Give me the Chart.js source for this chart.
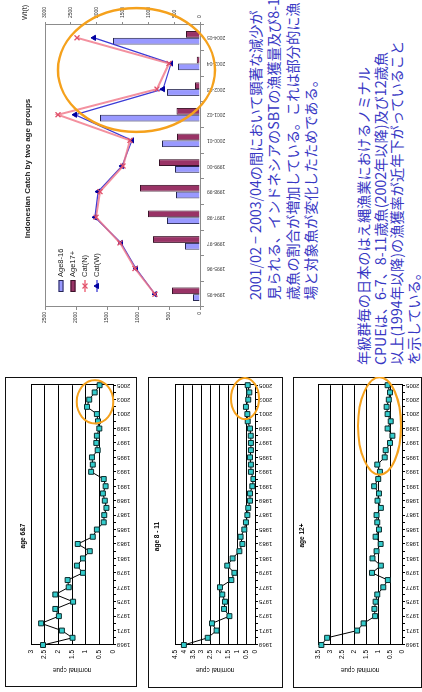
<!DOCTYPE html>
<html lang="ja">
<head>
<meta charset="utf-8">
<title>SBT catch and nominal CPUE</title>
<script src="https://cdn.jsdelivr.net/npm/chart.js@4.4.1/dist/chart.umd.min.js"></script>
<style>
  html, body { margin:0; padding:0; width:422px; height:692px; overflow:hidden; background:#fff; }
  /* the slide is laid out landscape and turned a quarter turn to portrait */
  #slide { position:absolute; left:0; top:0; width:692px; height:422px; overflow:hidden; background:#fff;
           transform-origin:0 0; transform:translate(0,692px) rotate(-90deg); }
  .panel { position:absolute; box-sizing:border-box; border:1.5px solid #111; }
  canvas { position:absolute; }
  .note { position:absolute; margin:0; white-space:nowrap; color:#3838c4;
          font-family:"Noto Sans CJK JP","Noto Sans",sans-serif; font-size:14.2px; }
</style>
</head>
<body>
<div id="slide">
  <canvas id="catch" width="337" height="240" style="left:355px;top:0px"></canvas>

  <div class="note" style="left:392px;top:246px;line-height:18.3px">
    <div>2001/02 − 2003/04の間において顕著な減少が</div>
    <div>見られる、インドネシアのSBTの漁獲量及び8-16</div>
    <div>歳魚の割合が増加している。これは部分的に漁</div>
    <div>場と対象魚が変化したためである。</div>
  </div>

  <div class="note" style="left:327px;top:355px;line-height:16.5px">
    <div>年級群毎の日本のはえ縄漁業におけるノミナル</div>
    <div>CPUEは、6-7、8-11歳魚(2002年以降)及び12歳魚</div>
    <div>以上(1994年以降)の漁獲率が近年下がっていること</div>
    <div>を示している。</div>
  </div>

  <div class="panel" style="left:5px;top:5px;width:310px;height:132px"></div>
  <div class="panel" style="left:4px;top:148px;width:311px;height:135px"></div>
  <div class="panel" style="left:4px;top:293px;width:311px;height:129px"></div>
  <canvas id="cpue1" width="310" height="132" style="left:5px;top:5px"></canvas>
  <canvas id="cpue2" width="311" height="135" style="left:4px;top:148px"></canvas>
  <canvas id="cpue3" width="311" height="129" style="left:4px;top:293px"></canvas>
</div>

<script>
// ---- Indonesian catch by season ----
const seasons = ['1994-95','1995-96','1996-97','1997-98','1998-99','1999-00',
                 '2000-01','2001-02','2002-03','2003-04','2004-05'];
const age8to16  = [113, null, 242, 532, 387, 403, 613, 1613, 532, 355, 1403];
const age17plus = [452, null, 758, 839, 968, 661, 371, 379, 81, 53, 226];
const catchN    = [726, 1048, 1290, 1677, 1613, 1242, 1129, 2290, 694, 500, 1984];
const catchW    = [871, 1239, 1529, 2032, 1974, 1510, 1316, 2419, 716, 561, 2052];
const numberTicks = [0, 500, 1000, 1500, 2000, 2500];
const weightTicks = [0, 500, 1000, 1500, 2000, 2500, 3000];

// ---- Japanese longline nominal CPUE by age class ----
const years = ['1969','1970','1971','1972','1973','1974','1975','1976','1977','1978',
               '1979','1980','1981','1982','1983','1984','1985','1986','1987','1988',
               '1989','1990','1991','1992','1993','1994','1995','1996','1997','1998',
               '1999','2000','2001','2002','2003','2004','2005'];
const cpueAge6to7 = [2.56, 1.48, 1.87, 2.63, 1.98, 2.11, 1.46, 2.11, 1.62, 1.66,
                     1.10, 1.32, 1.10, 0.85, 1.29, 0.74, 0.59, 0.34, 0.32, 0.24,
                     0.30, 0.37, 0.27, 0.34, 0.80, 0.74, 0.77, 0.56, 0.61, 0.59,
                     0.50, 0.55, 0.59, 0.95, 0.87, 0.67, 0.49];
const cpueAge8to11 = [4.00, 2.66, 2.16, 2.42, 1.44, 1.74, 1.69, 1.84, 1.97, 1.33,
                      1.16, 1.56, 1.26, 0.88, 0.71, 0.81, 0.60, 0.51, 0.43, 0.38,
                      0.28, 0.28, 0.15, 0.09, 0.23, 0.23, 0.28, 0.23, 0.23, 0.24,
                      0.28, 0.41, 0.43, 0.51, 0.38, 0.32, 0.41];
const cpueAge12plus = [3.36, 3.12, 1.87, 1.60, 1.12, 1.15, 1.10, 1.03, 0.78, 0.59,
                       1.25, 0.88, 1.23, 1.06, 0.89, 1.10, 0.96, 1.03, 1.06, 0.88,
                       1.02, 0.96, 1.16, 0.99, 0.92, 1.03, 0.72, 0.68, 0.50, 0.40,
                       0.60, 0.47, 0.60, 0.64, 0.55, 0.50, 0.60];
const cpueTicks6to7   = [0, 0.5, 1, 1.5, 2, 2.5, 3];
const cpueTicks8to11  = [0, 0.5, 1, 1.5, 2, 2.5, 3, 3.5, 4, 4.5];
const cpueTicks12plus = [0, 0.5, 1, 1.5, 2, 2.5, 3, 3.5];

// recent-period highlights, in axis units: [from, to] along x (category index) and y
const catchRing      = { x: [6.33, 11.16], y: [2290, -242] };
const cpueRing6to7   = { x: [30.7, 36.7], y: [1.33, -0.01] };
const cpueRing8to11  = { x: [31.3, 37.0], y: [1.35, -0.22] };
const cpueRing12plus = { x: [23.6, 37.1], y: [1.83, 0.04] };

Chart.defaults.font.family = '"Liberation Sans", Arial, sans-serif';
Chart.defaults.color = '#222';

const stepped = t => ({ min: t[0], max: t[t.length - 1], step: t[1] - t[0] });
const plain = v => String(v);

// box around the plotting area
const frame = {
  id: 'frame',
  beforeDatasetsDraw(chart, args, o) {
    const a = chart.chartArea, c = chart.ctx;
    c.save();
    c.strokeStyle = o.color || '#000';
    c.lineWidth = o.width || 1;
    c.strokeRect(Math.round(a.left) + 0.5, Math.round(a.top) + 0.5,
                 Math.round(a.right) - Math.round(a.left), Math.round(a.bottom) - Math.round(a.top));
    c.restore();
  }
};

// orange ring placed through the chart's own scales
const highlight = {
  id: 'highlight',
  afterDraw(chart, args, o) {
    if (!o || !o.x) return;
    const xs = chart.scales.x, ys = chart.scales[o.axis || 'y'];
    const x0 = xs.getPixelForValue(o.x[0]), x1 = xs.getPixelForValue(o.x[1]);
    const y0 = ys.getPixelForValue(o.y[0]), y1 = ys.getPixelForValue(o.y[1]);
    const c = chart.ctx;
    c.save();
    c.beginPath();
    c.ellipse((x0 + x1) / 2, (y0 + y1) / 2, Math.abs(x1 - x0) / 2, Math.abs(y1 - y0) / 2, 0, 0, Math.PI * 2);
    c.strokeStyle = o.color || '#f5a11c';
    c.lineWidth = o.width || 2;
    c.stroke();
    c.restore();
  }
};

// legend drawn inside the plot: box for bars, line with marker for lines
const seriesKey = {
  id: 'seriesKey',
  afterDatasetsDraw(chart, args, o) {
    const c = chart.ctx, a = chart.chartArea;
    const x0 = a.left + o.dx, w = o.sample;
    chart.data.datasets.forEach((ds, i) => {
      const y = a.top + o.dy + i * o.row;
      c.save();
      if ((ds.type || chart.config.type) === 'bar') {
        c.fillStyle = ds.backgroundColor;
        c.fillRect(x0, y - 2.5, w, 5);
        c.strokeStyle = ds.borderColor;
        c.lineWidth = 1;
        c.strokeRect(x0 + 0.5, y - 2, w - 1, 4);
      } else {
        c.strokeStyle = ds.borderColor;
        c.lineWidth = ds.borderWidth;
        c.beginPath(); c.moveTo(x0, y); c.lineTo(x0 + w, y); c.stroke();
        c.fillStyle = ds.pointBackgroundColor;
        c.strokeStyle = ds.pointBorderColor;
        c.lineWidth = ds.pointBorderWidth || 1;
        Chart.helpers.drawPoint(c, { pointStyle: ds.pointStyle, radius: ds.pointRadius, rotation: 0,
                                     borderWidth: ds.pointBorderWidth || 1 }, x0 + w / 2, y);
      }
      c.fillStyle = o.color;
      c.font = o.font;
      c.textBaseline = 'middle';
      c.textAlign = 'left';
      c.fillText(ds.label, x0 + w + 3, y);
      c.restore();
    });
  }
};

// unit caption above the weight axis
const axisCaption = {
  id: 'axisCaption',
  afterDraw(chart, args, o) {
    if (!o || !o.text) return;
    const s = chart.scales[o.axis], c = chart.ctx;
    c.save();
    c.fillStyle = o.color; c.font = o.font;
    c.textAlign = 'center'; c.textBaseline = 'middle';
    c.fillText(o.text, s.left + o.dx, chart.chartArea.top - o.dy);
    c.restore();
  }
};

const nTicks = stepped(numberTicks), wTicks = stepped(weightTicks);

new Chart(document.getElementById('catch'), {
  type: 'bar',
  data: {
    labels: seasons,
    datasets: [
      { label: 'Age8-16', data: age8to16, backgroundColor: '#9999ff', borderColor: '#262650',
        borderWidth: 1, yAxisID: 'y', order: 1, categoryPercentage: 0.53, barPercentage: 1 },
      { label: 'Age17+', data: age17plus, backgroundColor: '#993366', borderColor: '#3a1228',
        borderWidth: 1, yAxisID: 'y', order: 1, categoryPercentage: 0.53, barPercentage: 1 },
      { type: 'line', label: 'Cat(N)', data: catchN, borderColor: 'rgba(240,118,135,0.8)', borderWidth: 2,
        pointStyle: 'crossRot', pointRadius: 3.5, pointBackgroundColor: '#e0506a',
        pointBorderColor: '#e0506a', pointBorderWidth: 1.2, yAxisID: 'y', order: 0, tension: 0 },
      { type: 'line', label: 'Cat(W)', data: catchW, borderColor: '#3c3cd6', borderWidth: 1.3,
        pointStyle: 'triangle', pointRadius: 3, pointBackgroundColor: '#0000a0',
        pointBorderColor: '#0000a0', pointBorderWidth: 1, yAxisID: 'y1', order: 0, tension: 0 }
    ]
  },
  options: {
    responsive: false,
    animation: false,
    layout: { padding: 0 },
    plugins: {
      legend: { display: false },
      tooltip: { enabled: false },
      title: { display: true, text: 'Indonesian Catch by two age groups', color: '#222',
               font: { size: 8, weight: 'bold' }, padding: { top: 23.2, bottom: 12.2 } },
      frame: { color: '#8c8c8c' },
      highlight: { x: catchRing.x, y: catchRing.y, axis: 'y', color: '#f5a11c', width: 2.5 },
      seriesKey: { dx: 15, dy: 16, row: 12, sample: 12, font: '7.5px "Liberation Sans", Arial, sans-serif', color: '#222' },
      axisCaption: { text: 'Wt(t)', axis: 'y1', dx: 12.5, dy: 20, color: '#222', font: '7px "Liberation Sans", Arial, sans-serif' }
    },
    scales: {
      x: {
        grid: { drawOnChartArea: false, tickLength: 4, color: '#8c8c8c' },
        border: { display: false },
        ticks: { autoSkip: false, maxRotation: 90, minRotation: 90, padding: 3, font: { size: 5 }, color: '#333' },
        afterFit(s) { s.height = 40; }
      },
      y: {
        position: 'left', min: nTicks.min, max: nTicks.max,
        ticks: { stepSize: nTicks.step, autoSkip: false, padding: 2, font: { size: 5 }, color: '#333', callback: plain },
        grid: { drawOnChartArea: false, tickLength: 3, color: '#8c8c8c' },
        border: { display: false },
        afterFit(s) { s.width = 30; }
      },
      y1: {
        position: 'right', min: wTicks.min, max: wTicks.max,
        ticks: { stepSize: wTicks.step, autoSkip: false, padding: 4, font: { size: 5 }, color: '#333', callback: plain },
        grid: { drawOnChartArea: false, tickLength: 3, color: '#8c8c8c' },
        border: { display: false },
        afterFit(s) { s.width = 25; }
      }
    }
  },
  plugins: [frame, highlight, seriesKey, axisCaption]
});

function cpueChart(id, title, values, tickValues, box, ring) {
  const t = stepped(tickValues);
  return new Chart(document.getElementById(id), {
    type: 'line',
    data: {
      labels: years,
      datasets: [{
        label: title, data: values, borderColor: '#000', borderWidth: 1, tension: 0,
        pointStyle: 'rect', pointRadius: 3.5, pointBackgroundColor: '#33cccc',
        pointBorderColor: '#0b2b2b', pointBorderWidth: 1
      }]
    },
    options: {
      responsive: false,
      animation: false,
      layout: { padding: { left: 0, right: box.right, top: 0, bottom: 0 } },
      plugins: {
        legend: { display: false },
        tooltip: { enabled: false },
        title: { display: true, text: title, color: '#000', font: { size: 6.5 },
                 padding: { top: box.titleTop, bottom: box.titleBottom } },
        frame: { color: '#000' },
        highlight: { x: ring.x, y: ring.y, axis: 'y', color: '#f5a11c', width: 2 }
      },
      scales: {
        x: {
          grid: { drawOnChartArea: false, tickLength: 3, color: '#000' },
          border: { color: '#000' },
          ticks: {
            autoSkip: false, maxRotation: 90, minRotation: 90, padding: 1,
            font: { size: 6 }, color: '#000',
            callback(v, i) { return i % 2 === 0 ? this.getLabelForValue(v) : ''; }
          },
          afterFit(s) { s.height = box.bottom; }
        },
        y: {
          min: t.min, max: t.max,
          ticks: { stepSize: t.step, autoSkip: false, padding: 5, font: { size: 6.5 }, color: '#000', callback: plain },
          grid: { color: '#000', lineWidth: 1, drawTicks: false },
          border: { color: '#000' },
          title: { display: true, text: 'nominal cpue', color: '#000', font: { size: 6.5 },
                   padding: { top: box.axisTitle, bottom: 0 } },
          afterFit(s) { s.width = box.left; }
        }
      }
    },
    plugins: [frame, highlight]
  });
}

cpueChart('cpue1', 'age 6&7', cpueAge6to7, cpueTicks6to7,
          { left: 42, right: 8, bottom: 24, titleTop: 14.1, titleBottom: 4.1, axisTitle: 13.1 }, cpueRing6to7);
cpueChart('cpue2', 'age 8 - 11', cpueAge8to11, cpueTicks8to11,
          { left: 43, right: 8, bottom: 28, titleTop: 5.1, titleBottom: 14.1, axisTitle: 14.1 }, cpueRing8to11);
cpueChart('cpue3', 'age 12+', cpueAge12plus, cpueTicks12plus,
          { left: 43, right: 6, bottom: 20, titleTop: 5.1, titleBottom: 12.1, axisTitle: 14.1 }, cpueRing12plus);
</script>
</body>
</html>
